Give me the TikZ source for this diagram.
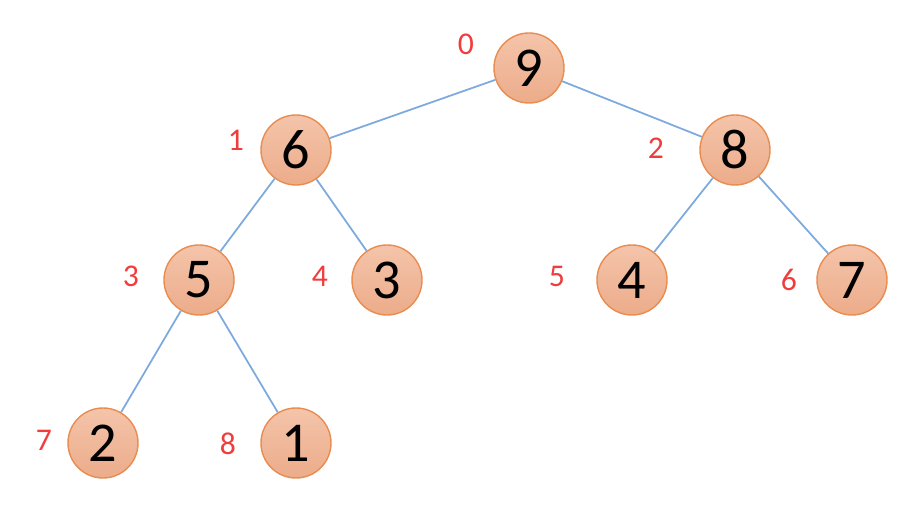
\documentclass[tikz,border=0pt]{standalone}
\usepackage{fontspec}
\setmainfont{Carlito}
\usepackage{xcolor}
\usepackage{tikz}

\definecolor{heapfill}{RGB}{236,172,138}
\definecolor{heaptop}{RGB}{244,196,170}
\definecolor{heapline}{RGB}{232,140,80}
\definecolor{edgeblue}{RGB}{125,170,222}
\definecolor{idxred}{RGB}{240,60,60}

\begin{document}
\begin{tikzpicture}[
  heap/.style={circle, draw=heapline, line width=0.8pt, top color=heaptop, bottom color=heapfill, minimum size=1.4cm, inner sep=0pt, font=\fontsize{32}{32}\selectfont},
  idx/.style={text=idxred, font=\fontsize{18}{18}\selectfont},
  link/.style={draw=edgeblue, line width=1pt}
]
\useasboundingbox (0,0) rectangle (18.46,-10.4);

\node[heap] (n0) at (10.58,-1.36) {9};
\node[heap] (n1) at (5.92,-3.0) {6};
\node[heap] (n2) at (14.7,-3.0) {8};
\node[heap] (n3) at (3.98,-5.6) {5};
\node[heap] (n4) at (7.74,-5.6) {3};
\node[heap] (n5) at (12.64,-5.6) {4};
\node[heap] (n6) at (17.04,-5.6) {7};
\node[heap] (n7) at (2.06,-8.86) {2};
\node[heap] (n8) at (5.92,-8.86) {1};

\node[idx] (i0) at (9.32,-0.88) {0};
\node[idx] (i1) at (4.72,-2.8) {1};
\node[idx] (i2) at (13.12,-2.96) {2};
\node[idx] (i3) at (2.62,-5.52) {3};
\node[idx] (i4) at (6.4,-5.52) {4};
\node[idx] (i5) at (11.14,-5.52) {5};
\node[idx] (i6) at (15.78,-5.6) {6};
\node[idx] (i7) at (0.88,-8.8) {7};
\node[idx] (i8) at (4.56,-8.88) {8};

\draw[link] (n0) -- (n1);
\draw[link] (n0) -- (n2);
\draw[link] (n1) -- (n3);
\draw[link] (n1) -- (n4);
\draw[link] (n2) -- (n5);
\draw[link] (n2) -- (n6);
\draw[link] (n3) -- (n7);
\draw[link] (n3) -- (n8);
\end{tikzpicture}
\end{document}
